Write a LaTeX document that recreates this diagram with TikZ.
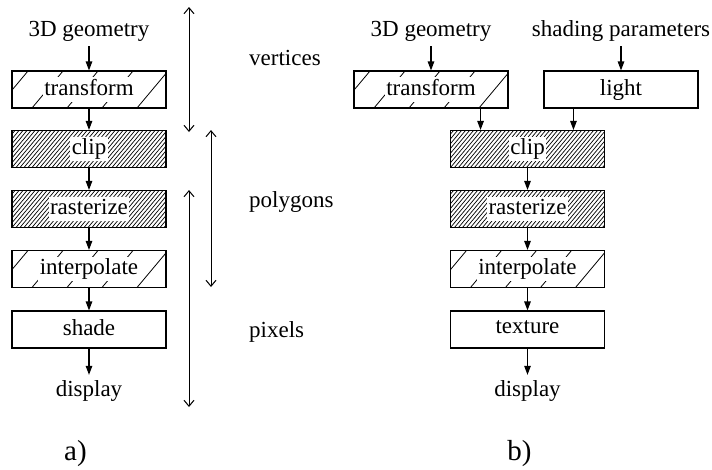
\documentclass[tikz,border=0pt]{standalone}
\usepackage{fontspec}
\setmainfont{Liberation Serif}
\usetikzlibrary{arrows.meta}
% stage caption on a white patch so the hatching stops around the word
\newcommand{\boxtext}[1]{\setlength{\fboxsep}{1.5pt}\colorbox{white}{\rule[-0.21em]{0pt}{0.72em}#1}}
\begin{document}
\begin{tikzpicture}[x=1pt,y=-1pt,
  every node/.style={font=\rmfamily\fontsize{23}{27}\selectfont},
  stage/.style={draw, line width=1.1pt, minimum width=154pt, minimum height=37pt, inner sep=0pt},
  sparse/.style={path picture={
    \foreach \k in {-1,...,5}{
      \draw[line width=0.8pt] ([xshift={20pt+35pt*\k}]path picture bounding box.south west) -- ++(31pt,37pt);}}},
  dense/.style={path picture={
    \foreach \k in {-10,...,40}{
      \draw[line width=0.7pt] ([xshift={4pt*\k}]path picture bounding box.south west) -- ++(31pt,37pt);}}},
  txt/.style={inner sep=5pt},
  flow/.style={line width=1.1pt, -{Triangle[length=9pt,width=6.5pt]}},
  measure/.style={line width=1pt, {Straight Barb[length=6pt,width=10pt]}-{Straight Barb[length=6pt,width=10pt]}},
  part/.style={font=\rmfamily\fontsize{29}{34}\selectfont, anchor=base}]
\useasboundingbox (0,0) rectangle (712,469);

% ---- a) fixed pipeline ----
\node[txt, anchor=base] (gA) at (89,36) {3D geometry};
\node[stage, sparse] (tA) at (89,89.5) {\boxtext{transform}};
\node[stage, dense]  (cA) at (89,149) {\boxtext{clip}};
\node[stage, dense]  (rA) at (89,209) {\boxtext{rasterize}};
\node[stage, sparse] (iA) at (89,269) {\boxtext{interpolate}};
\node[stage]         (sA) at (89,329.5) {\boxtext{shade}};
\node[txt, anchor=base] (dA) at (89,396) {display};

\draw[flow] (gA.south) -- (tA.north);
\draw[flow] (tA.south) -- (cA.north);
\draw[flow] (cA.south) -- (rA.north);
\draw[flow] (rA.south) -- (iA.north);
\draw[flow] (iA.south) -- (sA.north);
\draw[flow] (sA.south) -- (dA.north);

% data ranges
\coordinate (v1) at (189,7);   \coordinate (v2) at (189,132);
\coordinate (p1) at (211,130); \coordinate (p2) at (211,287);
\coordinate (x1) at (189,190); \coordinate (x2) at (189,407);
\draw[measure] (v1) -- (v2);
\draw[measure] (p1) -- (p2);
\draw[measure] (x1) -- (x2);
\node[anchor=base west, inner sep=0pt] (lv) at (249,65) {vertices};
\node[anchor=base west, inner sep=0pt] (lp) at (249,207) {polygons};
\node[anchor=base west, inner sep=0pt] (lx) at (249,337) {pixels};

\node[part] (ta) at (75.5,460) {a)};

% ---- b) pipeline with lighting ----
\node[txt, anchor=base] (gB) at (431,36) {3D geometry};
\node[txt, anchor=base] (hB) at (621,36) {shading parameters};
\node[stage, sparse] (tB) at (431,89.5) {\boxtext{transform}};
\node[stage]         (lB) at (621,89.5) {\boxtext{light}};
\node[stage, dense]  (cB) at (527.5,149) {\boxtext{clip}};
\node[stage, dense]  (rB) at (527.5,209) {\boxtext{rasterize}};
\node[stage, sparse] (iB) at (527.5,269) {\boxtext{interpolate}};
\node[stage]         (xB) at (527.5,329.5) {\boxtext{texture}};
\node[txt, anchor=base] (dB) at (527.5,396) {display};

\draw[flow] (gB.south) -- (tB.north);
\draw[flow] (hB.south) -- (lB.north);
\draw[flow] ([xshift=-28pt]tB.south east) -- ([xshift=-28pt]tB.south east |- cB.north);
\draw[flow] ([xshift=30pt]lB.south west) -- ([xshift=30pt]lB.south west |- cB.north);
\draw[flow] (cB.south) -- (rB.north);
\draw[flow] (rB.south) -- (iB.north);
\draw[flow] (iB.south) -- (xB.north);
\draw[flow] (xB.south) -- (dB.north);

\node[part] (tb) at (519.5,460) {b)};
\end{tikzpicture}
\end{document}
